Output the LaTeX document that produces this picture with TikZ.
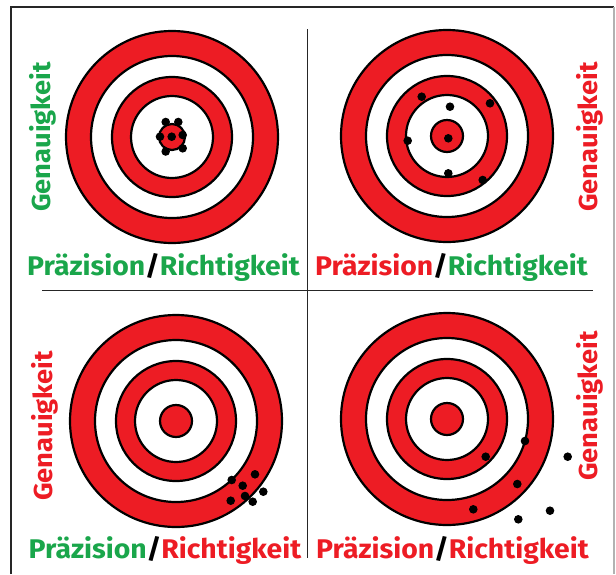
\documentclass[tikz,border=0pt]{standalone}
\usepackage{fontspec}
\setmainfont{Fira Sans}
\newfontfamily\lblfont[FakeStretch=1.05]{Fira Sans}
\usetikzlibrary{positioning}
\definecolor{tgtred}{HTML}{ED1C24}
\definecolor{tgtgreen}{HTML}{1AA64B}

\begin{document}
\begin{tikzpicture}[x=1pt,y=-1pt,
  ringred/.style={fill=tgtred, draw=black, line width=2.2pt},
  ringwhite/.style={fill=white, draw=black, line width=2.2pt},
  shot/.style={fill=black},
  sidelabel/.style={font=\lblfont\fontsize{26}{26}\selectfont\bfseries, rotate=90, anchor=base, inner sep=0pt},
  baselabel/.style={font=\lblfont\fontsize{27}{27}\selectfont\bfseries, anchor=base, inner sep=0pt},
]
\useasboundingbox (0,0) rectangle (616,574);

% frame and dividers
\draw[black!85, line width=1.2pt] (11,574) -- (11,7) -- (614,7);
\draw[black!30, line width=1.2pt] (614,7) -- (614,574);
\draw[black!85, line width=1pt] (307,29) -- (307,558);
\draw[black!85, line width=1pt] (42,290) -- (593,290);

% targets: centre x/y, bullseye radius
\foreach \cx/\cy/\rb in {172/137/13, 447/136/16, 176/421/16, 447/419/16} {
  \draw[ringred]   (\cx,\cy) circle[radius=106pt];
  \draw[ringwhite] (\cx,\cy) circle[radius=81pt];
  \draw[ringred]   (\cx,\cy) circle[radius=60pt];
  \draw[ringwhite] (\cx,\cy) circle[radius=41pt];
  \draw[ringred]   (\cx,\cy) circle[radius=\rb pt];
}

% shots
\foreach \sx/\sy in {
  165.7/122, 178.3/122, 160/136.7, 171.7/136.7, 182.7/135, 165.7/151.5, 182.7/148.3,
  421.7/96.7, 450/106.7, 490/103.3, 407.7/140.7, 448.3/138.3, 448.3/173.3, 482.7/180,
  231.7/480, 255/474.3, 242.7/485.7, 263.3/491.7, 245/496, 230.7/500.7, 252.7/501.7,
  525/441, 485.7/456.7, 567.7/456.7, 517.3/484, 473.3/509.3, 550/510.7, 518.3/519.3
} {
  \fill[shot] (\sx,\sy) circle[radius=4.3pt];
}

% labels
\node[sidelabel, text=tgtgreen] (gtl) at (50,137) {Genauigkeit};
\node[sidelabel, text=tgtred]   (gtr) at (597,137) {Genauigkeit};
\node[sidelabel, text=tgtred]   (gbl) at (52,426) {Genauigkeit};
\node[sidelabel, text=tgtred]   (gbr) at (597,406) {Genauigkeit};

\node[baselabel] (ptl) at (163.5,275)
  {\textcolor{tgtgreen}{Präzision}/\textcolor{tgtgreen}{Richtigkeit}};
\node[baselabel] (ptr) at (451.5,275)
  {\textcolor{tgtred}{Präzision}/\textcolor{tgtgreen}{Richtigkeit}};
\node[baselabel] (pbl) at (165,558)
  {\textcolor{tgtgreen}{Präzision}/\textcolor{tgtred}{Richtigkeit}};
\node[baselabel] (pbr) at (452.5,558)
  {\textcolor{tgtred}{Präzision}/\textcolor{tgtred}{Richtigkeit}};
\end{tikzpicture}
\end{document}
